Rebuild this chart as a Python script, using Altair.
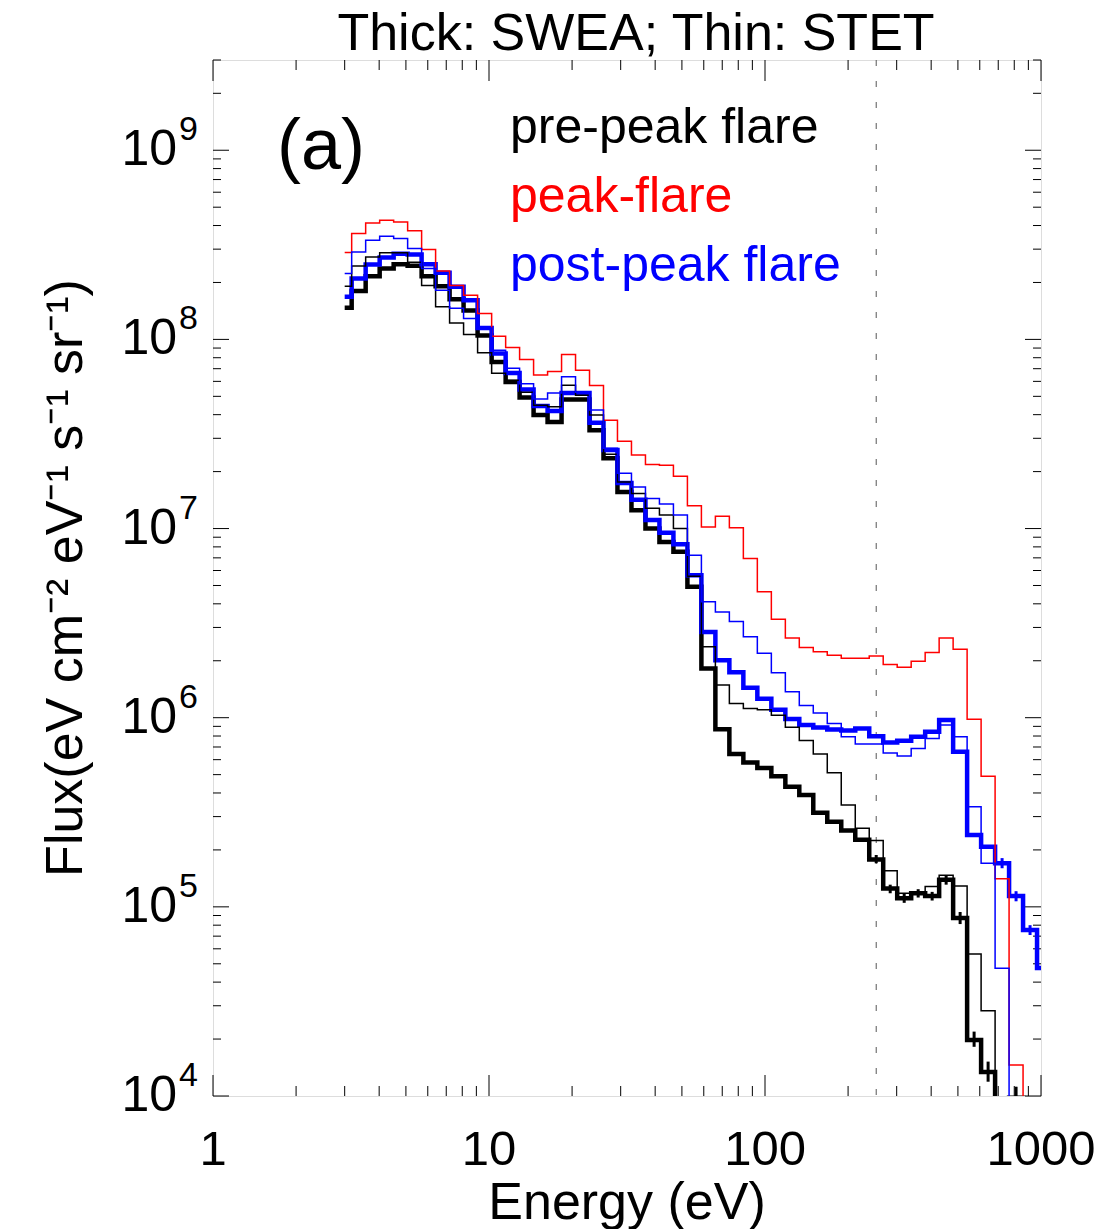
import altair as alt
import pandas as pd

# ---------------- data ----------------
# SWEA energy-bin centres (eV), log-spaced table
energy = [3.000, 3.371, 3.789, 4.258, 4.785, 5.377, 6.042, 6.790, 7.630, 8.575,
          9.641, 10.84, 12.18, 13.68, 15.38, 17.28, 19.42, 21.82, 24.52, 27.55,
          30.96, 34.80, 39.10, 43.94, 49.38, 55.49, 62.36, 70.07, 78.75, 88.49,
          99.44, 111.8, 125.6, 141.1, 158.6, 178.2, 200.3, 225.1, 252.9, 284.2,
          319.4, 358.9, 403.3, 453.2, 509.3, 572.3, 643.2, 722.8, 812.2, 912.7,
          1025.6]

# thick black: SWEA pre-peak flare
swea_pre = [1.47e8, 1.80e8, 2.16e8, 2.37e8, 2.50e8, 2.45e8, 2.16e8, 1.91e8, 1.63e8, 1.42e8,
            1.05e8, 7.6e7, 5.96e7, 4.93e7, 3.98e7, 3.66e7, 4.81e7, 4.81e7, 3.31e7, 2.35e7,
            1.56e7, 1.25e7, 1.00e7, 8.5e6, 7.53e6, 4.92e6, 1.82e6, 8.70e5, 6.42e5, 5.79e5,
            5.42e5, 4.91e5, 4.31e5, 3.90e5, 3.14e5, 2.82e5, 2.53e5, 2.26e5, 1.78e5, 1.25e5,
            1.11e5, 1.18e5, 1.14e5, 1.39e5, 8.73e4, 1.98e4, 1.34e4, 1e3, 9.8e3, 1e3]
# thin black: STET pre-peak flare
stet_pre = [1.91e8, 2.44e8, 2.73e8, 2.87e8, 2.87e8, 2.56e8, 1.93e8, 1.49e8, 1.22e8, 1.06e8,
            8.5e7, 6.63e7, 6.09e7, 5.26e7, 4.49e7, 4.40e7, 5.73e7, 5.07e7, 3.98e7, 2.47e7,
            1.76e7, 1.53e7, 1.28e7, 1.18e7, 1.00e7, 5.60e6, 2.37e6, 1.49e6, 1.19e6, 1.12e6,
            1.10e6, 1.03e6, 8.89e5, 7.57e5, 6.42e5, 5.12e5, 3.45e5, 2.60e5, 2.24e5, 1.55e5,
            1.18e5, 1.20e5, 1.28e5, 1.47e5, 1.29e5, 5.63e4, 2.82e4, 1e3, 1e3, 1e3]
# thin red: STET peak-flare
stet_peak = [2.88e8, 3.63e8, 4.13e8, 4.27e8, 4.18e8, 3.75e8, 2.99e8, 2.30e8, 1.93e8, 1.71e8,
             1.37e8, 1.04e8, 9.06e7, 7.83e7, 6.49e7, 6.77e7, 8.32e7, 6.87e7, 5.71e7, 3.74e7,
             2.89e7, 2.45e7, 2.18e7, 2.16e7, 1.89e7, 1.32e7, 1.02e7, 1.16e7, 1.01e7, 6.95e6,
             4.63e6, 3.31e6, 2.64e6, 2.35e6, 2.23e6, 2.14e6, 2.06e6, 2.06e6, 2.12e6, 1.91e6,
             1.85e6, 1.99e6, 2.21e6, 2.64e6, 2.30e6, 9.8e5, 4.91e5, 1.41e5, 1.46e4, 1e3]
# thick blue: SWEA post-peak flare
swea_post = [1.68e8, 2.10e8, 2.49e8, 2.71e8, 2.84e8, 2.81e8, 2.50e8, 2.25e8, 1.90e8, 1.61e8,
             1.15e8, 8.42e7, 6.65e7, 5.44e7, 4.44e7, 4.18e7, 5.20e7, 5.20e7, 3.62e7, 2.60e7,
             1.74e7, 1.42e7, 1.11e7, 9.49e6, 8.27e6, 5.67e6, 2.84e6, 2.01e6, 1.74e6, 1.44e6,
             1.26e6, 1.10e6, 9.83e5, 9.14e5, 8.87e5, 8.65e5, 8.55e5, 8.78e5, 7.99e5, 7.40e5,
             7.55e5, 7.93e5, 8.42e5, 9.71e5, 6.60e5, 2.40e5, 2.08e5, 1.70e5, 1.14e5, 7.54e4,
             4.75e4]
# thin blue: STET post-peak flare
stet_post = [2.23e8, 2.90e8, 3.34e8, 3.51e8, 3.42e8, 3.02e8, 2.37e8, 1.82e8, 1.46e8, 1.29e8,
             1.15e8, 8.77e7, 7.04e7, 5.82e7, 4.84e7, 5.21e7, 6.34e7, 5.26e7, 4.24e7, 2.66e7,
             1.96e7, 1.66e7, 1.44e7, 1.35e7, 1.18e7, 7.23e6, 4.10e6, 3.62e6, 3.23e6, 2.68e6,
             2.19e6, 1.73e6, 1.37e6, 1.16e6, 1.06e6, 9.33e5, 7.93e5, 7.25e5, 7.25e5, 6.50e5,
             6.27e5, 6.88e5, 7.77e5, 9.14e5, 7.93e5, 3.38e5, 1.70e5, 4.73e4, 1e3, 1e3]

# SWEA error bars (bin energy, low, high)
err_pre_e = [252.9, 284.2, 319.4, 358.9, 403.3, 453.2, 509.3, 572.3, 643.2, 812.2]
err_pre_lo = [1.70e5, 1.18e5, 1.05e5, 1.12e5, 1.08e5, 1.31e5, 8.11e4, 1.82e4, 1.19e4, 9.0e3]
err_pre_hi = [1.88e5, 1.31e5, 1.17e5, 1.24e5, 1.20e5, 1.47e5, 9.39e4, 2.19e4, 1.52e4, 1.12e4]
err_post_e = [722.8, 812.2, 912.7]
err_post_lo = [1.60e5, 1.07e5, 7.1e4]
err_post_hi = [1.81e5, 1.21e5, 8.0e4]

marker_energy = [252.9]

x_major = [1, 10, 100, 1000]
x_labels = ["1", "10", "100", "1000"]
x_minor = [2, 3, 4, 5, 6, 7, 8, 9, 20, 30, 40, 50, 60, 70, 80, 90,
           200, 300, 400, 500, 600, 700, 800, 900]
y_major = [1e4, 1e5, 1e6, 1e7, 1e8, 1e9]
y_label_exp = ["4", "5", "6", "7", "8", "9"]
y_minor = [2e4, 3e4, 4e4, 5e4, 6e4, 7e4, 8e4, 9e4,
           2e5, 3e5, 4e5, 5e5, 6e5, 7e5, 8e5, 9e5,
           2e6, 3e6, 4e6, 5e6, 6e6, 7e6, 8e6, 9e6,
           2e7, 3e7, 4e7, 5e7, 6e7, 7e7, 8e7, 9e7,
           2e8, 3e8, 4e8, 5e8, 6e8, 7e8, 8e8, 9e8, 2e9, 3e9]

x_title = "Energy (eV)"
y_title = "Flux(eV cm\u207b\u00b2 eV\u207b\u00b9 s\u207b\u00b9 sr\u207b\u00b9)"
main_title = "Thick: SWEA; Thin: STET"

# ---------------- chart ----------------
W, H = 828, 1036
FONT = "Liberation Sans"
xscale = alt.Scale(type="log", domain=[1, 1000], nice=False)
yscale = alt.Scale(type="log", domain=[1e4, 3e9], nice=False)


def X(field):
    return alt.X(field, scale=xscale, axis=None)


def Y(field):
    return alt.Y(field, scale=yscale, axis=None)


def step_layer(vals, color, width):
    df = pd.DataFrame({"energy": energy[:len(vals)], "flux": vals})
    return alt.Chart(df).mark_line(
        interpolate="step", color=color, strokeWidth=width, clip=True
    ).encode(x=X("energy:Q"), y=Y("flux:Q"))


def tick_layer(vals, horiz, pos, length):
    df = pd.DataFrame({"v": vals})
    base = alt.Chart(df).mark_rule(color="black", strokeWidth=1)
    if horiz:
        if pos == "bottom":
            return base.encode(x=X("v:Q"), y=alt.value(H), y2=alt.value(H - length))
        return base.encode(x=X("v:Q"), y=alt.value(0), y2=alt.value(length))
    if pos == "left":
        return base.encode(y=Y("v:Q"), x=alt.value(0), x2=alt.value(length))
    return base.encode(y=Y("v:Q"), x=alt.value(W), x2=alt.value(W - length))


def err_layer(es, lo, hi, color):
    df = pd.DataFrame({"energy": es, "lo": lo, "hi": hi})
    return alt.Chart(df).mark_rule(color=color, strokeWidth=3, clip=True).encode(
        x=X("energy:Q"), y=Y("lo:Q"), y2="hi:Q"
    )


ticks = [
    tick_layer(x_major, True, "bottom", 21), tick_layer(x_minor, True, "bottom", 10),
    tick_layer(x_major, True, "top", 21), tick_layer(x_minor, True, "top", 10),
    tick_layer(y_major, False, "left", 16), tick_layer(y_minor, False, "left", 8),
    tick_layer(y_major, False, "right", 16), tick_layer(y_minor, False, "right", 8),
]

marker = alt.Chart(pd.DataFrame({"e": marker_energy})).mark_rule(
    color="#555555", strokeWidth=1, strokeDash=[6, 15]
).encode(x=X("e:Q"))

# y tick labels: "10" with a raised exponent
ylab_df = pd.DataFrame({"v": y_major, "base": ["10"] * len(y_major), "exp": y_label_exp})
ylab_base = alt.Chart(ylab_df).mark_text(
    align="right", baseline="middle", fontSize=50, font=FONT, color="black"
).encode(x=alt.value(-36), y=Y("v:Q"), text="base:N")
ylab_exp = alt.Chart(ylab_df).mark_text(
    align="left", baseline="middle", fontSize=34, font=FONT, color="black", dy=-20
).encode(x=alt.value(-34), y=Y("v:Q"), text="exp:N")

# x tick labels
xlab_df = pd.DataFrame({"v": x_major, "lab": x_labels})
xlab = alt.Chart(xlab_df).mark_text(
    align="center", baseline="alphabetic", fontSize=49, font=FONT, color="black"
).encode(x=X("v:Q"), y=alt.value(H + 69), text="lab:N")


def annot(text, x, y, color, size, angle=0, align="left", baseline="middle"):
    return alt.Chart(pd.DataFrame({"t": [text]})).mark_text(
        align=align, baseline=baseline, fontSize=size, font=FONT, color=color, angle=angle
    ).encode(x=alt.value(x), y=alt.value(y), text="t:N")


annots = [
    annot("(a)", 64, 87, "black", 72),
    annot("pre-peak flare", 297, 68, "black", 50),
    annot("peak-flare", 297, 137, "#ff0000", 50),
    annot("post-peak flare", 297, 206, "#0000ff", 50),
    annot(x_title, W / 2, H + 123, "black", 52, align="center", baseline="alphabetic"),
    annot(y_title, -131, H / 2, "black", 52, angle=270, align="center", baseline="alphabetic"),
    annot(main_title, W / 2 + 9, -10, "black", 52, align="center", baseline="alphabetic"),
]

chart = alt.layer(
    *ticks,
    marker,
    step_layer(swea_pre, "black", 4.5),
    step_layer(swea_post, "#0000ff", 4.5),
    step_layer(stet_peak, "#ff0000", 1.5),
    step_layer(stet_pre, "black", 1.5),
    step_layer(stet_post, "#0000ff", 1.5),
    err_layer(err_pre_e, err_pre_lo, err_pre_hi, "black"),
    err_layer(err_post_e, err_post_lo, err_post_hi, "#0000ff"),
    ylab_base, ylab_exp, xlab,
    *annots,
).properties(
    width=W, height=H,
    autosize=alt.AutoSizeParams(type="none"),
    padding={"left": 213, "top": 60, "right": 59, "bottom": 133},
).configure_view(
    stroke="black", strokeWidth=1
).configure(background="white")

chart.save("out.html", embed_options={"renderer": "svg", "actions": False})
